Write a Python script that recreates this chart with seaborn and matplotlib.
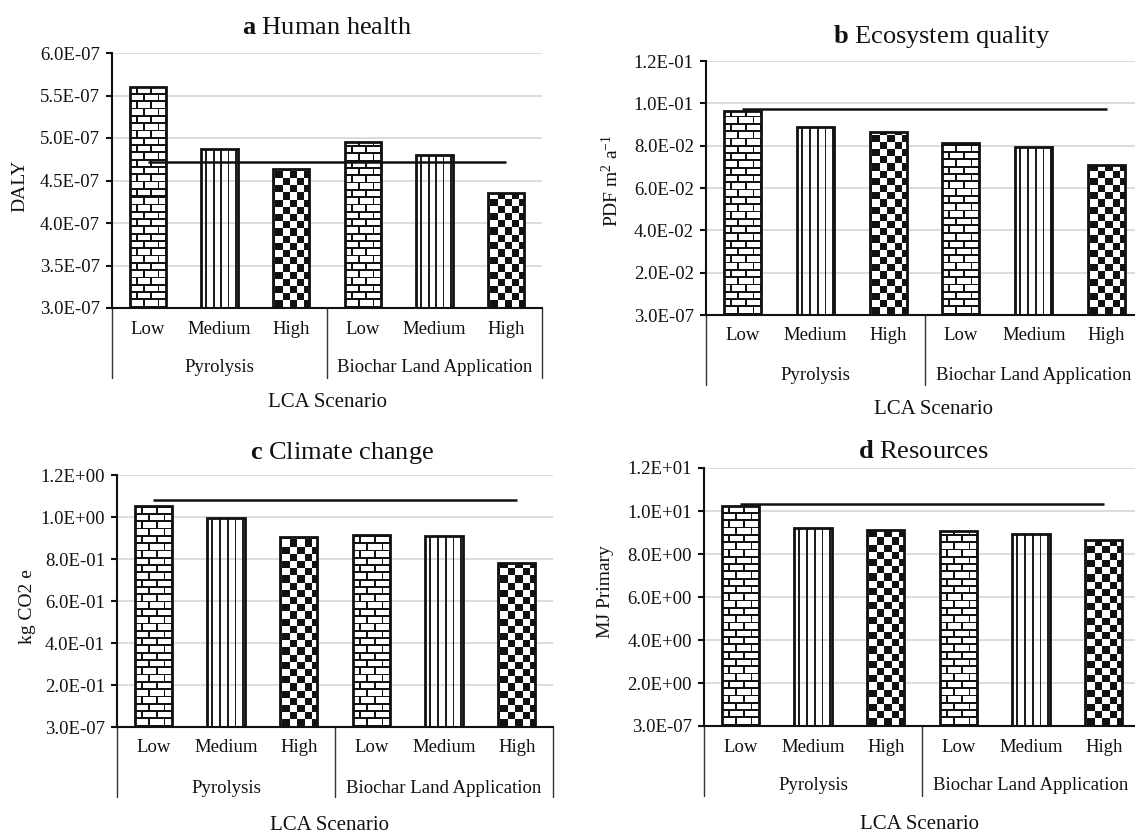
import numpy as np
import pandas as pd
import matplotlib
matplotlib.use("Agg")
import matplotlib.pyplot as plt
import matplotlib.transforms as mtransforms
from matplotlib.ticker import FixedLocator, FuncFormatter
import seaborn as sns

# ---------------- data ----------------
levels = ["Low", "Medium", "High", "Low", "Medium", "High"]
groups = ["Pyrolysis", "Biochar Land Application"]
scenario_keys = ["P-Low", "P-Medium", "P-High", "B-Low", "B-Medium", "B-High"]

human_health = [5.605e-07, 4.875e-07, 4.63e-07, 4.95e-07, 4.796e-07, 4.358e-07]
ecosystem_quality = [0.0963, 0.0889, 0.0864, 0.0813, 0.0795, 0.0708]
climate_change = [1.052, 0.993, 0.903, 0.913, 0.910, 0.779]
resources = [10.22, 9.21, 9.13, 9.05, 8.91, 8.64]
reference_values = [4.717e-07, 0.0975, 1.082, 10.31]

title_letters = ["a", "b", "c", "d"]
title_texts = ["Human health", "Ecosystem quality", "Climate change", "Resources"]
y_labels = ["DALY", r"PDF m$^{2}$ a$^{-1}$", "kg CO2 e", "MJ Primary"]
y_ticks = [
    [3.0e-07, 3.5e-07, 4.0e-07, 4.5e-07, 5.0e-07, 5.5e-07, 6.0e-07],
    [3.0e-07, 0.02, 0.04, 0.06, 0.08, 0.10, 0.12],
    [3.0e-07, 0.2, 0.4, 0.6, 0.8, 1.0, 1.2],
    [3.0e-07, 2.0, 4.0, 6.0, 8.0, 10.0, 12.0],
]
x_title = "LCA Scenario"
series = [human_health, ecosystem_quality, climate_change, resources]
patterns = ["brick", "vline", "checker", "brick", "vline", "checker"]

# ---------------- style / layout ----------------
sns.set_theme(style="white")
plt.rcParams["font.family"] = ["Liberation Serif", "DejaVu Serif"]
plt.rcParams["mathtext.fontset"] = "custom"
plt.rcParams["mathtext.rm"] = "Liberation Serif"
plt.rcParams["mathtext.bf"] = "Liberation Serif:bold"
plt.rcParams["mathtext.it"] = "Liberation Serif:italic"
plt.rcParams["text.color"] = "#111111"

W, H = 1135, 833
DPI = 100
panels = [(112, 53, 542, 308), (706, 61, 1143, 315),
          (117, 475, 553, 727), (704, 468, 1140, 726)]
title_pos = [(242, 34), (833, 43), (250, 459), (858, 458)]
ylabel_pos = [(20, 186), (611, 181), (27, 607), (606, 592)]
xtitle_pos = [(328, 407), (933, 414), (330, 830), (920, 829)]
group_off = [64, 65, 66, 64]

fig = plt.figure(figsize=(W / DPI, H / DPI), dpi=DPI)
fig.patch.set_facecolor("white")

INK = np.array([0.07, 0.07, 0.07, 1.0])
PAPER = np.array([1.0, 1.0, 1.0, 1.0])


def make_pattern(kind, w, h):
    yy, xx = np.mgrid[0:h, 0:w].astype(float)
    yb = h - 1 - yy
    rgba = np.zeros((h, w, 4))
    if kind == "brick":
        rowh, bw = 7.3, 14.6
        r = np.floor(yb / rowh).astype(int)
        hmask = (yb % rowh) < 1.8
        off = np.where(r % 2 == 0, 2.0, 2.0 + bw / 2)
        vmask = ((xx + off) % bw) < 1.8
        rgba[:] = PAPER
        rgba[hmask | vmask] = INK
    elif kind == "vline":
        mask = ((xx - 4.0) % 7.4) < 1.6
        rgba[mask] = np.array([0.12, 0.12, 0.12, 1.0])
    else:
        c = 7.2
        cx = np.floor((xx - 2.0) / c).astype(int)
        cy = np.floor(yb / c).astype(int)
        mask = (cx + cy) % 2 == 0
        rgba[:] = PAPER
        rgba[mask] = INK
    return rgba


for i, (vals, (l, t, r, b)) in enumerate(zip(series, panels)):
    ax = fig.add_axes([l / W, (H - b) / H, (r - l) / W, (b - t) / H])
    df = pd.DataFrame({"scenario": scenario_keys, "value": vals})
    sns.barplot(data=df, x="scenario", y="value", order=scenario_keys,
                color="white", width=0.51, errorbar=None, ax=ax)
    ylo, yhi = y_ticks[i][0], y_ticks[i][-1]
    ax.set_xlim(-0.5, len(scenario_keys) - 0.5)
    ax.set_ylim(ylo, yhi)
    ax.set_axisbelow(True)
    ax.yaxis.grid(True, color="#d9d9d9", linewidth=1.3)
    ax.xaxis.grid(False)
    for s in ["top", "right"]:
        ax.spines[s].set_visible(False)
    for s in ["left", "bottom"]:
        ax.spines[s].set_color("#111111")
        ax.spines[s].set_linewidth(1.5)

    ax.yaxis.set_major_locator(FixedLocator(y_ticks[i]))
    ax.yaxis.set_major_formatter(FuncFormatter(lambda v, p: format(v, ".1E")))
    ax.tick_params(axis="y", left=True, direction="out", length=4.5, width=1.5,
                   color="#111111", pad=4.3, labelsize=13.5, labelcolor="#111111")
    ax.set_xticks(range(len(levels)))
    ax.set_xticklabels(levels)
    ax.tick_params(axis="x", bottom=False, length=0, pad=9, labelsize=13.5,
                   labelcolor="#111111")
    ax.set_xlabel("")
    ax.set_ylabel("")

    # pattern fills clipped to the bars
    bars = list(ax.patches)
    for patch, kind in zip(bars, patterns):
        x0 = patch.get_x()
        x1 = x0 + patch.get_width()
        y0 = max(patch.get_y(), ylo)
        y1 = patch.get_y() + patch.get_height()
        p0 = ax.transData.transform((x0, y0))
        p1 = ax.transData.transform((x1, y1))
        wpx = max(int(round(p1[0] - p0[0])), 1)
        hpx = max(int(round(p1[1] - p0[1])), 1)
        img = make_pattern(kind, wpx, hpx)
        im = ax.imshow(img, extent=[x0, x1, y0, y1], origin="upper",
                       interpolation="nearest", aspect="auto", zorder=1.5)
        im.set_clip_path(patch)
        patch.set_facecolor("none")
        patch.set_edgecolor("#111111")
        patch.set_linewidth(2.0)
        patch.set_zorder(2)
    ax.set_xlim(-0.5, len(scenario_keys) - 0.5)
    ax.set_ylim(ylo, yhi)

    # reference line across scenarios
    ax.hlines(reference_values[i], 0, len(scenario_keys) - 1,
              colors="#111111", linewidth=1.8, zorder=3)

    # group bracket lines and labels
    hpx_ax = b - t
    trans = mtransforms.blended_transform_factory(ax.transData, ax.transAxes)
    for xb in [-0.5, 2.5, 5.5]:
        ax.plot([xb, xb], [0, -70 / hpx_ax], transform=trans, color="#333333",
                linewidth=1.0, clip_on=False)
    for gi, g in enumerate(groups):
        ax.annotate(g, xy=(1 + 3 * gi, 0), xycoords=trans,
                    xytext=(0, -group_off[i]), textcoords="offset pixels",
                    ha="center", va="baseline", fontsize=13.5, color="#111111")

    # titles and axis labels
    tx, ty = title_pos[i]
    fig.text(tx / W, 1 - ty / H, r"$\mathbf{%s}$ %s" % (title_letters[i], title_texts[i]),
             ha="left", va="baseline", fontsize=19, color="#111111")
    yx, yy_ = ylabel_pos[i]
    fig.text(yx / W, 1 - yy_ / H, y_labels[i], rotation=90, ha="center",
             va="center", fontsize=14, color="#111111")
    xx_, xy_ = xtitle_pos[i]
    fig.text(xx_ / W, 1 - xy_ / H, x_title, ha="center", va="baseline",
             fontsize=15, color="#111111")

fig.savefig("out.png", dpi=DPI, facecolor="white")
